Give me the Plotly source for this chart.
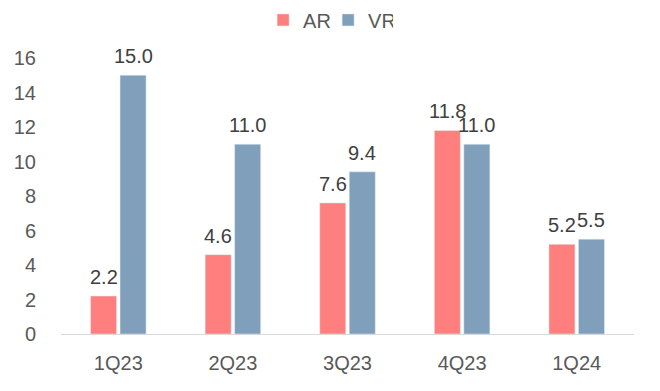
import plotly.graph_objects as go

categories = ["1Q23", "2Q23", "3Q23", "4Q23", "1Q24"]
ar_values = [2.2, 4.6, 7.6, 11.8, 5.2]
vr_values = [15.0, 11.0, 9.4, 11.0, 5.5]
y_ticks = [0, 2, 4, 6, 8, 10, 12, 14, 16]

BARGAP = 0.485
GROUPGAP = 0.118
slot = (1 - BARGAP) / 2

fig = go.Figure()
fig.add_trace(go.Bar(name="AR", x=categories, y=ar_values,
                     marker=dict(color="#FF7F7F")))
fig.add_trace(go.Bar(name="VR", x=categories, y=vr_values,
                     marker=dict(color="#7F9FBA")))

for offset, vals in ((-slot / 2, ar_values), (slot / 2, vr_values)):
    for i, v in enumerate(vals):
        fig.add_annotation(x=i + offset, y=v, text=f"{v:.1f}", showarrow=False,
                           xref="x", yref="y", yanchor="bottom", yshift=6,
                           font=dict(size=20, color="#404040"))

fig.update_layout(
    width=660, height=391,
    margin=dict(l=53, r=34, t=50, b=65, autoexpand=False),
    paper_bgcolor="white", plot_bgcolor="white",
    barmode="group", bargap=BARGAP, bargroupgap=GROUPGAP,
    font=dict(family="Liberation Sans, Arial, sans-serif", size=20, color="#595959"),
    legend=dict(orientation="h", x=0.485, xanchor="center", xref="container",
                y=1.138, yanchor="middle", yref="paper",
                font=dict(size=20, color="#595959"),
                itemwidth=30, entrywidth=20, entrywidthmode="pixels",
                traceorder="normal"),
    showlegend=True,
)
fig.update_xaxes(showline=True, linecolor="#D9D9D9", linewidth=1, ticks="",
                 showgrid=False, tickfont=dict(size=20, color="#595959"),
                 ticklabelstandoff=11)
fig.update_yaxes(range=[0, 16], tickvals=y_ticks, showgrid=False, zeroline=False,
                 showline=False, ticks="", tickfont=dict(size=20, color="#595959"),
                 ticklabelstandoff=24)

fig.write_html("out.html")
